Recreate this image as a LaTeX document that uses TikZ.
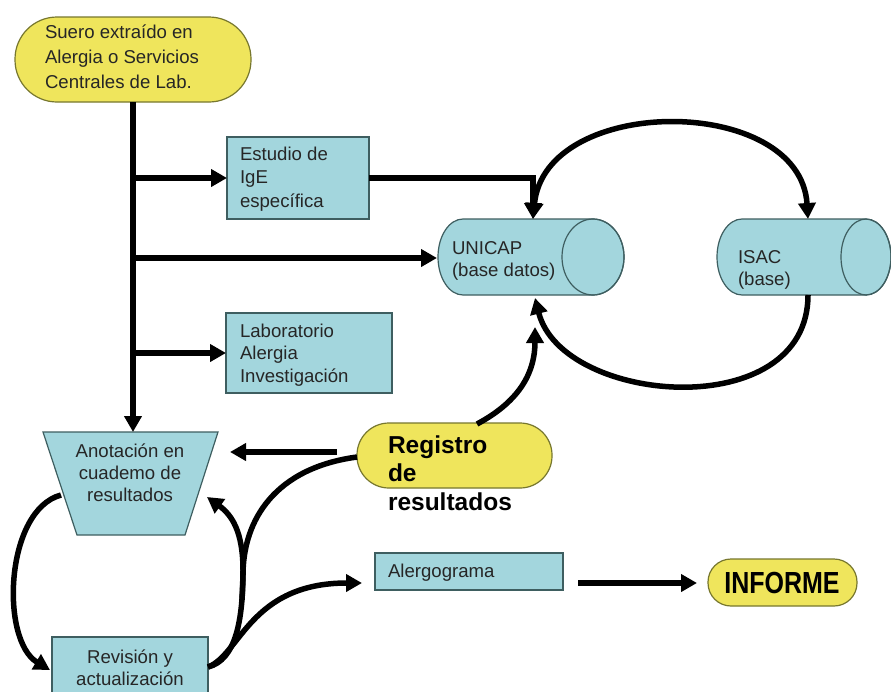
\documentclass[tikz,border=0pt]{standalone}
\usepackage{fontspec}
\setmainfont{Liberation Sans}
\usetikzlibrary{arrows.meta}
\definecolor{tealfill}{HTML}{A3D6DD}
\definecolor{tealline}{HTML}{3E5E60}
\definecolor{yelfill}{HTML}{EFE55C}
\definecolor{yelline}{HTML}{77772E}
\definecolor{txtcol}{HTML}{262626}
\newcommand\ltext[2][24pt]{\vtop{\baselineskip=#1\lineskiplimit=-20pt\halign{##\hfil\cr#2\crcr}}}
\newcommand\ctext[2][22pt]{\vtop{\baselineskip=#1\lineskiplimit=-20pt\halign{\hfil##\hfil\cr#2\crcr}}}
\begin{document}
\begin{tikzpicture}[x=1pt,y=1pt,
  boxsh/.style={draw=tealline, fill=tealfill, line width=1.2pt, inner sep=0pt, outer sep=0pt, anchor=north west},
  pillsh/.style={draw=yelline, fill=yelfill, line width=1.2pt, inner sep=0pt, outer sep=0pt, anchor=north west},
  lbl/.style={font=\fontsize{18.6}{22}\selectfont, text=txtcol, inner sep=0pt, outer sep=0pt},
  blbl/.style={font=\bfseries\fontsize{24.5}{28}\selectfont, text=black, inner sep=0pt, outer sep=0pt},
  conn/.style={line width=5.5pt},
  arr/.style={line width=5.5pt, -{Triangle[length=16pt,width=17pt]}},
  dblarr/.style={line width=5.5pt, {Triangle[length=16pt,width=17pt]}-{Triangle[length=16pt,width=17pt]}}
]
\useasboundingbox (0,0) rectangle (891,-691);
\fill[white] (0,0) rectangle (891,-691);
\clip (0,0) rectangle (891,-691);

% ---------- shapes ----------
\node[pillsh, minimum width=236pt, minimum height=85pt, rounded corners=42pt] (suero) at (15,-17) {};
\node[lbl, anchor=base west] (tsuero) at (45,-38) {\ltext[25pt]{Suero extraído en\cr Alergia o Servicios\cr Centrales de Lab.}};

\node[boxsh, minimum width=142pt, minimum height=82pt] (est) at (227,-137) {};
\node[lbl, anchor=base west] (test) at (240,-160) {\ltext[23.5pt]{Estudio de\cr IgE\cr específica}};

\node[boxsh, minimum width=166pt, minimum height=80pt] (lab) at (226,-313) {};
\node[lbl, anchor=base west] (tlab) at (240,-337) {\ltext[22.5pt]{Laboratorio\cr Alergia\cr Investigación}};

% UNICAP cylinder
\filldraw[draw=tealline, fill=tealfill, line width=1.2pt]
  (593,-219) -- (463,-219) arc[start angle=90, end angle=270, x radius=25, y radius=38]
  -- (593,-295) arc[start angle=-90, end angle=90, x radius=31, y radius=38] -- cycle;
\draw[tealline, line width=1.2pt] (593,-257) ellipse[x radius=31, y radius=38];
\node[lbl, anchor=base west] (tuni) at (452,-254) {\ltext[22pt]{UNICAP\cr (base datos)}};
\coordinate (uniN) at (533,-219);
\coordinate (uniW) at (437,-258);
\coordinate (uniS) at (535,-298);
\coordinate (uniS2) at (535,-327);

% ISAC cylinder
\filldraw[draw=tealline, fill=tealfill, line width=1.2pt]
  (866,-219) -- (742,-219) arc[start angle=90, end angle=270, x radius=25, y radius=38]
  -- (866,-295) arc[start angle=-90, end angle=90, x radius=25, y radius=38] -- cycle;
\draw[tealline, line width=1.2pt] (866,-257) ellipse[x radius=25, y radius=38];
\node[lbl, anchor=base west] (tisac) at (738,-263) {\ltext[22pt]{ISAC\cr (base)}};
\coordinate (isN) at (808,-219);
\coordinate (isS) at (808,-295);

% Anotacion trapezoid
\filldraw[draw=tealline, fill=tealfill, line width=1.2pt]
  (43,-432) -- (218,-432) -- (185,-535) -- (77,-535) -- cycle;
\node[lbl, anchor=base] (tanot) at (130,-457) {\ctext[22pt]{Anotación en\cr cuademo de\cr resultados}};
\coordinate (anN) at (133,-432);
\coordinate (anW) at (230,-452);
\coordinate (anE) at (207,-497);
\coordinate (anL) at (61,-495);

% Registro
\node[pillsh, minimum width=195pt, minimum height=65pt, rounded corners=32pt] (reg) at (357,-423) {};
\node[blbl, anchor=base west] (treg) at (388,-453) {\ltext[28.5pt]{Registro\cr de\cr resultados}};
\coordinate (regA) at (337,-452);
\coordinate (regW) at (357,-457);
\coordinate (regT) at (477,-424);
\coordinate (jB) at (242,-600);

% Revision
\node[boxsh, minimum width=156pt, minimum height=58pt] (rev) at (52,-637) {};
\node[lbl, anchor=base] (trev) at (130,-663) {\ctext[22pt]{Revisión y\cr actualización}};
\coordinate (revE) at (208,-667);
\coordinate (revW) at (50,-670);

% Alergograma
\node[boxsh, minimum width=188pt, minimum height=37pt] (alerg) at (375,-553) {};
\node[lbl, anchor=base west] (talerg) at (388,-577) {Alergograma};
\coordinate (alIn) at (362,-583);
\coordinate (alOut) at (578,-583);

% INFORME
\node[pillsh, minimum width=149pt, minimum height=47pt, rounded corners=23pt] (inf) at (708,-559) {};
\node[blbl, anchor=base] (tinf) at (782,-593) {\fontsize{25}{28}\selectfont\scalebox{1}[1.22]{INFORME}};
\coordinate (infW) at (697,-583);

% ---------- connectors ----------
\coordinate (j1) at (133,-178);
\coordinate (j2) at (133,-258);
\coordinate (j3) at (133,-353);
\draw[arr] (suero.south -| anN) -- (anN);
\draw[arr] (j1) -- (est.west);
\draw[arr] (j2) -- (uniW);
\draw[arr] (j3) -- (lab.west);
\draw[arr] (est.east) -| (uniN);
\draw[dblarr] (uniN) .. controls (545,-94) and (800,-94) .. (isN);
\draw[arr] (isS) .. controls (808,-425) and (562,-405) .. (uniS);
\draw[arr] (regT) .. controls (522,-400) and (535,-370) .. (uniS2);
\draw[arr] (regA) -- (anW);
\draw[arr] (anL) .. controls (5,-510) and (0,-640) .. (revW);
\draw[arr] (revE) .. controls (236,-660) and (243,-620) .. (243,-570) .. controls (243,-532) and (232,-515) .. (anE);
\draw[conn] (regW) .. controls (275,-468) and (243,-520) .. (243,-575) -- (jB);
\draw[arr] (revE) .. controls (240,-655) and (250,-583) .. (alIn);
\draw[arr] (alOut) -- (infW);
\end{tikzpicture}
\end{document}
